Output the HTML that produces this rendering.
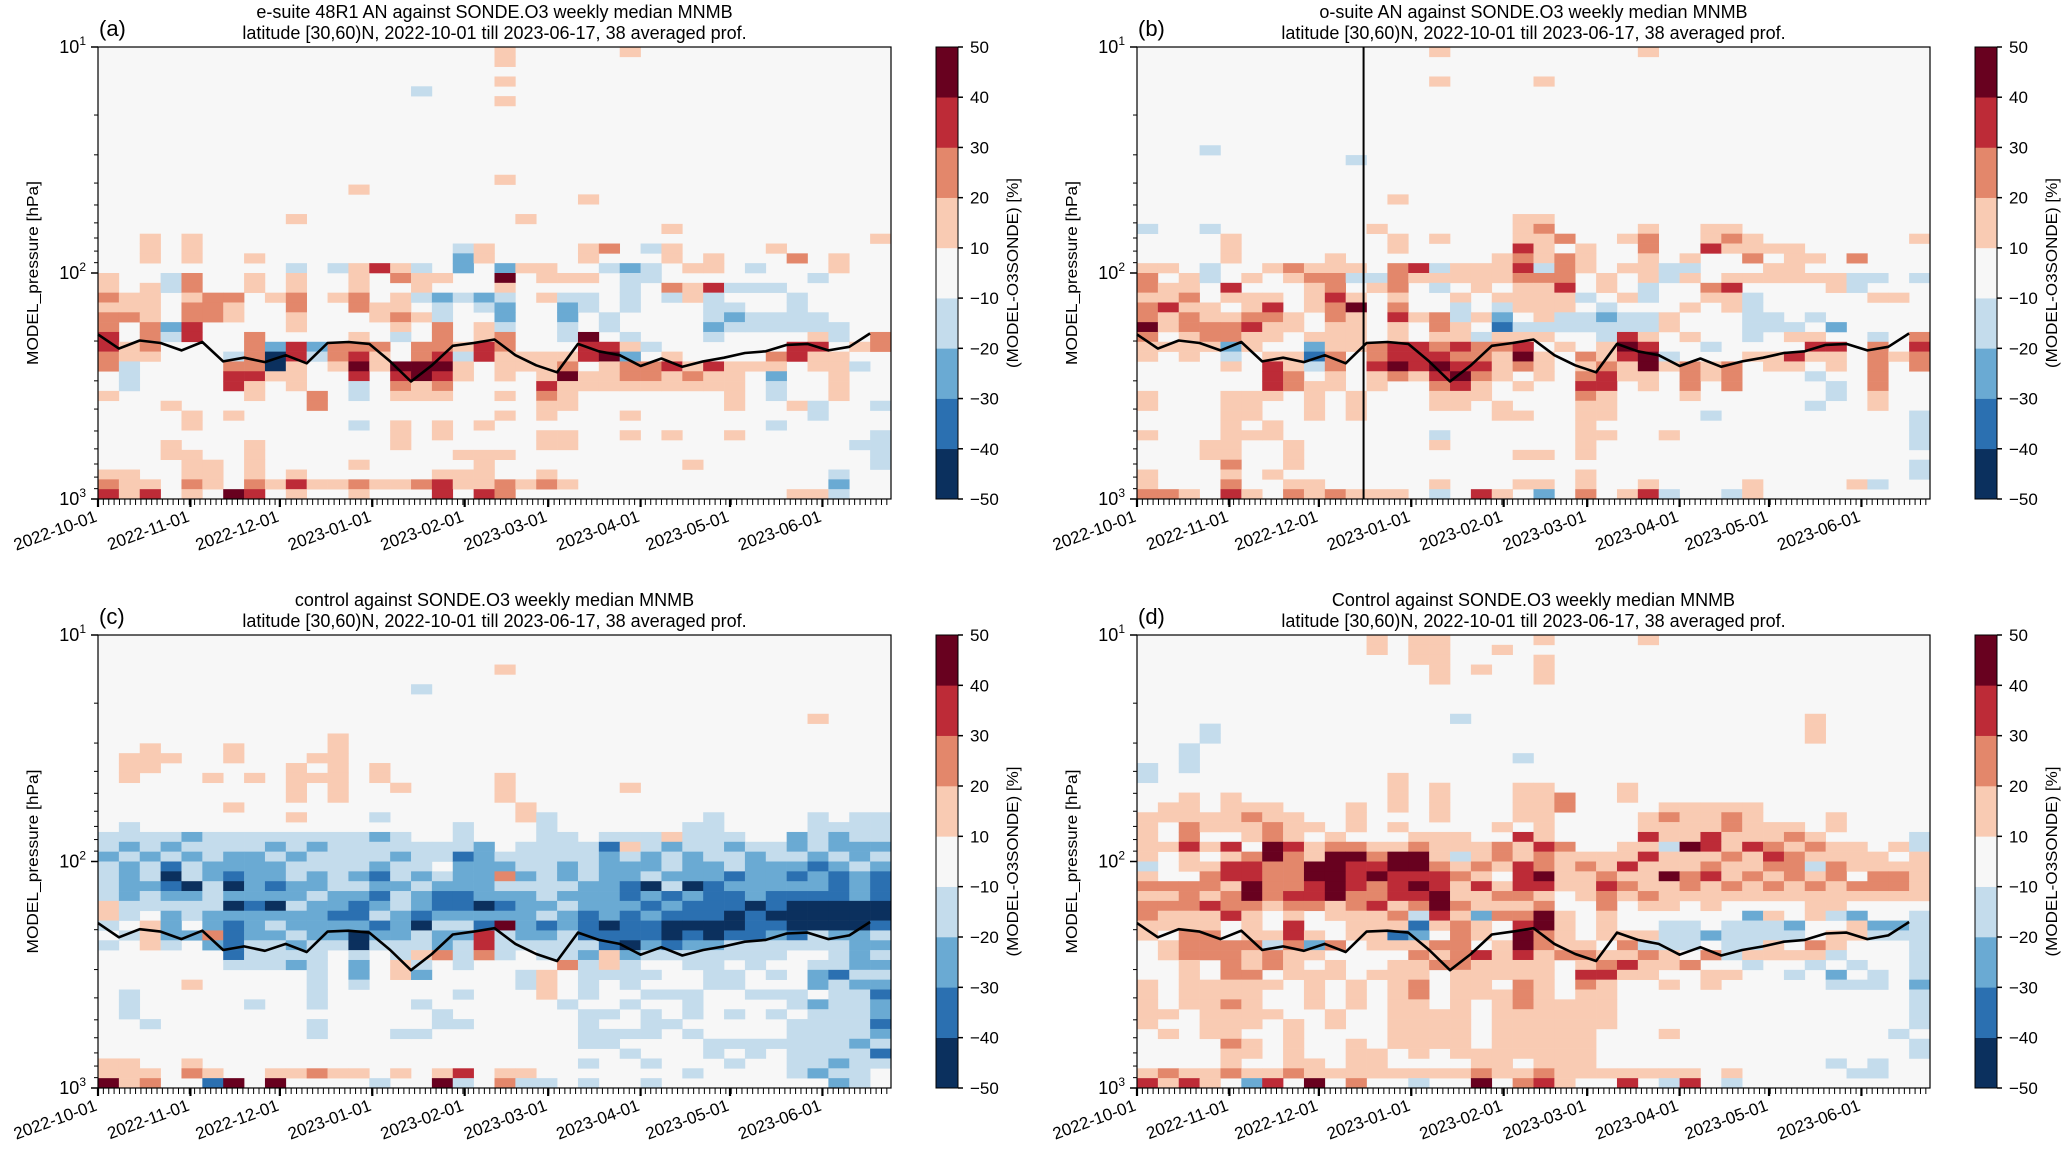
<!DOCTYPE html>
<html><head><meta charset="utf-8"><title>MNMB heatmaps</title>
<style>
html,body{margin:0;padding:0;background:#fff;}
svg{display:block;font-family:"Liberation Sans",sans-serif;}
</style></head>
<body>
<svg id="fig" xmlns="http://www.w3.org/2000/svg" width="2066" height="1152" viewBox="0 0 2066 1152"></svg>
<script>
// ---------- data ----------
const weekCount = 38;
const startDate = "2022-10-01";
const monthTicks = ["2022-10-01","2022-11-01","2022-12-01","2023-01-01","2023-02-01","2023-03-01","2023-04-01","2023-05-01","2023-06-01"];
const yTickExps = [1, 2, 3];
const cbTicks = [50, 40, 30, 20, 10, -10, -20, -30, -40, -50];
const cbBounds = [-50, -40, -30, -20, -10, 10, 20, 30, 40, 50];
const cbColors = ["#0b305e","#2b70b1","#6aaad3","#c4dcec","#f7f7f7","#f9cbb3","#e3876b","#bd2b37","#68011f"];
const tropopause = [187,216,199,204,220,202,246,237,248,231,251,204,202,206,246,302,256,210,204,197,231,256,275,206,222,231,258,239,260,246,237,226,222,208,206,220,212,185];
const codeValues = {"a":-15,"b":-25,"c":-35,"d":-45,"1":15,"2":25,"3":35,"4":45};
const titlesLine1 = ["e-suite 48R1 AN against SONDE.O3 weekly median MNMB","o-suite AN against SONDE.O3 weekly median MNMB","control against SONDE.O3 weekly median MNMB","Control against SONDE.O3 weekly median MNMB"];
const titleLine2 = "latitude [30,60)N, 2022-10-01 till 2023-06-17, 38 averaged prof.";
const panelLetters = ["(a)","(b)","(c)","(d)"];
const markerDateB = "2022-12-16";
const nRows = 46;
// rows top (10 hPa) -> bottom (1000 hPa); "col:code" entries
const gridA = ["19:1 25:1","19:1","","19:1","15:a","19:1","","","","","","","","19:1","12:1","23:1","","9:1 20:1","27:1","2:1 4:1 37:1",
"2:1 4:1 17:a 18:1 23:1 24:2 26:a 27:1 32:1",
"2:1 4:1 7:1 17:b 18:1 23:1 27:1 29:1 33:2 35:1",
"9:a 11:a 12:1 13:3 14:1 15:a 17:b 19:b 20:1 21:1 24:a 25:b 26:a 28:1 29:1 31:a 35:1",
"0:1 3:a 4:2 7:1 9:1 12:1 14:2 15:1 16:1 19:4 21:1 22:1 23:1 25:a 26:a 34:a",
"0:1 2:1 3:a 4:2 7:1 9:1 12:1 15:1 19:1 25:a 27:2 28:1 29:3 30:a 31:a 32:a",
"0:2 1:1 2:1 4:1 5:2 6:2 8:1 9:2 11:1 12:2 14:1 15:a 16:b 17:a 18:b 19:a 21:1 22:a 23:a 25:a 27:a 28:1 29:a 33:a",
"0:1 1:1 2:1 4:2 5:2 6:1 9:2 12:2 13:1 14:1 16:a 18:a 19:b 22:b 23:a 25:a 29:a 30:a 33:a",
"0:2 1:2 2:1 4:2 5:2 6:1 9:1 13:1 14:2 15:1 16:a 19:b 22:b 24:a 29:a 30:b 31:a 32:a 33:a 34:a",
"0:2 2:2 3:b 4:3 9:1 14:1 16:2 18:1 19:a 22:a 24:a 29:b 30:a 31:a 32:a 33:a 34:a 35:a",
"0:3 2:2 3:a 4:3 7:2 12:1 14:a 16:2 18:1 19:2 22:a 23:4 25:a 29:a 34:1 35:a 37:2",
"0:3 1:1 2:2 7:2 8:b 9:3 10:b 11:2 12:2 13:2 15:2 16:2 17:1 18:3 19:2 23:3 24:3 25:1 26:a 33:3 34:3 36:1 37:2",
"0:2 1:1 2:1 6:a 7:2 8:d 9:3 10:a 11:2 12:3 13:1 15:2 16:3 17:a 18:3 19:1 20:1 21:1 22:1 23:3 24:4 25:b 27:1 32:2 33:3 34:1 35:1",
"0:2 1:a 6:2 7:2 8:d 9:1 11:1 12:4 13:1 14:4 15:4 16:4 17:1 19:1 20:1 21:1 22:2 24:1 25:2 26:2 27:3 28:1 29:3 30:1 31:1 32:1 34:1 35:1 36:a",
"1:a 6:3 7:3 8:1 9:1 12:3 14:3 15:4 16:3 17:1 19:1 21:1 22:4 23:1 24:1 25:2 26:2 27:1 28:2 29:1 30:1 32:b 35:1",
"1:a 6:3 7:1 9:1 12:a 14:2 15:1 16:2 21:3 22:1 23:1 24:1 25:1 26:1 27:1 28:1 29:1 30:1 32:a 35:1",
"0:1 7:1 10:2 12:a 14:1 15:1 16:1 19:1 21:2 22:1 30:1 32:a 35:1",
"3:1 10:2 21:1 22:1 30:1 33:1 34:a 37:a",
"4:1 6:1 19:1 21:1 25:1 34:a",
"4:1 12:a 14:1 16:1 18:1 32:a",
"14:1 16:1 21:1 22:1 25:1 27:1 30:1 37:a",
"3:1 7:1 14:1 21:1 22:1 36:a 37:a",
"3:1 4:1 7:1 17:1 18:1 19:1 37:a",
"4:1 5:1 7:1 12:1 18:1 28:1 37:a",
"0:1 1:1 4:1 5:1 7:1 9:1 16:1 17:1 18:1 21:1 35:a",
"0:2 1:1 2:1 4:2 5:1 7:2 8:1 9:3 10:1 11:1 12:2 13:1 14:1 15:2 16:3 17:1 18:1 19:2 20:1 21:2 22:1 35:b",
"0:3 1:1 2:3 4:1 6:4 7:3 9:1 12:1 16:3 18:3 19:2 33:1 34:1 35:a"];
const gridB = ["14:1 24:1","","","14:1 19:1","","","","","","","3:a","10:a","","","","12:1","","18:1 19:1","0:a 3:a 11:1 18:1 19:2 24:1 27:1 28:1",
"4:1 12:1 14:1 18:1 19:1 20:2 23:1 24:2 27:1 28:2 29:1 37:1",
"4:1 12:1 18:3 19:1 21:1 24:2 27:3 28:1 29:1 30:1 31:1",
"4:1 9:1 17:1 18:2 19:1 20:2 21:1 24:1 26:1 29:2 31:1 32:1 34:2",
"0:1 1:1 3:a 6:1 7:2 8:1 9:1 10:1 12:2 13:3 14:a 15:1 16:1 17:1 18:3 19:a 20:2 21:1 23:1 24:1 25:a 26:a 30:1 31:1",
"0:2 2:1 3:a 5:1 7:1 8:2 9:2 10:a 11:a 12:2 13:1 14:1 15:1 16:1 17:1 18:2 19:2 20:2 22:1 24:1 25:a 26:1 28:1 29:1 30:1 31:1 32:1 33:1 34:a 35:a 37:a",
"0:2 1:1 2:1 4:3 8:1 9:2 11:1 12:2 14:a 16:1 18:1 19:1 20:3 22:1 24:a 27:2 28:3 33:1 34:a",
"0:1 1:1 2:2 4:1 5:1 6:1 8:1 9:3 10:1 12:1 15:1 17:1 18:1 19:1 20:1 21:a 23:1 24:a 27:1 28:1 29:a 35:1 36:1",
"0:2 1:3 2:1 3:1 5:1 6:3 8:1 9:2 10:4 12:2 15:a 17:a 18:1 19:1 20:1 22:a 26:1 28:1 29:a",
"0:2 1:1 2:2 3:1 4:1 5:2 6:2 7:1 9:2 10:1 12:3 13:1 14:2 15:a 16:1 17:b 19:1 20:a 21:a 22:b 23:a 24:a 25:1 29:a 30:a 32:a",
"0:4 1:1 2:2 3:2 4:2 5:3 6:1 7:1 9:1 10:1 12:1 14:2 15:1 17:c 18:a 19:a 20:a 21:a 22:a 23:a 24:a 25:1 29:a 30:a 31:a 33:b",
"0:2 2:1 3:2 4:2 5:1 6:1 8:1 9:1 10:1 12:1 14:1 15:1 16:a 17:1 18:1 19:1 22:a 23:3 24:1 26:1 29:a 31:1 32:1 35:a 37:2",
"0:1 1:1 2:1 3:1 4:b 5:1 8:b 9:1 10:1 11:2 12:3 13:3 14:2 15:3 16:2 17:2 18:3 20:1 22:1 23:4 24:3 27:a 32:3 33:3 35:2 37:3",
"0:1 2:1 4:a 6:1 7:1 8:c 9:2 11:2 12:3 13:3 14:3 15:2 16:2 17:1 18:4 19:1 21:2 22:1 23:3 24:4 25:a 29:1 30:1 31:3 32:1 33:1 35:2 36:1 37:2",
"4:1 6:3 7:1 8:a 9:2 11:3 12:4 13:3 14:4 15:3 16:3 17:1 18:2 19:1 21:1 22:2 23:1 24:4 25:1 26:2 27:1 28:2 30:1 31:1 33:1 35:2 37:2",
"6:3 7:2 9:1 11:1 12:2 13:1 14:3 15:4 16:2 17:1 19:1 21:2 22:3 23:1 24:1 26:2 27:1 28:2 32:a 35:2",
"6:3 7:2 8:1 9:1 11:1 14:2 15:3 16:1 18:1 21:3 22:3 24:1 26:2 28:2 33:a 35:2",
"0:1 4:1 5:1 6:1 8:1 10:1 14:1 15:1 16:1 21:2 22:1 26:1 33:a 35:1",
"0:1 4:1 5:1 8:1 10:1 14:1 15:1 17:1 21:1 22:1 32:a 35:1",
"4:1 5:1 8:1 10:1 17:1 18:1 21:1 22:1 27:a 37:a",
"4:1 6:1 21:1 37:a",
"0:1 4:1 5:1 6:1 14:a 21:1 22:1 25:1 37:a",
"3:1 4:1 7:1 14:1 21:1 37:a",
"3:1 4:1 7:1 18:1 19:1 21:1",
"4:2 7:1 37:a",
"0:1 4:1 6:1 21:1 37:a",
"0:1 4:2 7:1 8:1 14:1 18:1 19:1 21:1 24:1 29:1 34:1 35:a",
"0:2 1:2 2:1 4:3 5:1 7:2 8:1 9:2 10:1 11:1 12:1 14:a 16:3 17:1 19:b 21:2 23:1 24:3 25:a 28:a 29:1"];
const gridC = ["","","","19:1","","15:a","","","34:1","","11:1","2:1 6:1 11:1","1:1 2:1 3:1 6:1 10:1 11:1","1:1 2:1 9:1 11:1 13:1","1:1 5:1 7:1 9:1 10:1 11:1 13:1 19:1",
"9:1 11:1 14:1 19:1 25:1","9:1 11:1 19:1","6:1 20:1","9:1 13:a 20:1 21:a 29:a 34:a 36:a 37:a","1:a 17:a 21:a 28:a 29:a 34:a 35:a 36:a 37:a",
"0:a 1:a 2:a 3:a 4:b 5:a 6:a 7:a 8:a 9:a 10:a 11:a 12:a 13:b 14:a 17:a 21:a 22:a 24:a 25:a 26:a 27:1 28:a 29:a 30:a 33:b 34:a 35:b 36:a 37:a",
"0:a 1:b 2:a 3:b 4:a 5:a 6:a 7:a 8:b 9:a 10:b 11:a 12:a 13:a 14:a 15:a 16:a 17:a 18:b 20:a 21:a 22:a 23:a 24:c 25:1 26:a 27:b 28:a 29:a 30:b 31:a 32:a 33:b 34:a 35:b 36:b 37:b",
"0:b 1:a 2:b 3:a 4:b 5:a 6:b 7:b 8:a 9:b 10:a 11:a 12:a 13:a 14:b 15:a 16:a 17:c 18:b 19:a 20:a 21:a 22:a 23:a 24:b 25:a 26:b 27:a 28:b 29:a 30:a 31:b 32:a 33:a 34:b 35:a 36:b 37:a",
"0:a 1:b 2:a 3:c 4:a 5:b 6:b 7:b 8:b 9:a 10:a 11:a 12:a 13:b 14:a 15:a 17:b 18:b 19:b 20:a 21:a 22:b 23:a 24:b 25:b 26:b 27:a 28:b 29:b 30:a 31:b 32:b 33:b 34:c 35:b 36:a 37:b",
"0:a 1:b 2:a 3:d 4:a 5:b 6:c 7:b 8:b 9:a 10:b 11:a 12:b 13:c 14:a 15:b 16:a 17:b 18:b 19:2 20:b 21:a 22:b 23:a 24:b 25:b 26:a 27:b 28:b 29:b 30:c 31:b 32:b 33:c 34:b 35:c 36:b 37:c",
"0:a 1:b 2:b 3:c 4:d 5:a 6:d 7:b 8:c 9:b 10:b 11:a 12:a 13:b 14:b 15:a 16:b 17:b 18:b 19:a 20:a 21:a 22:a 23:b 24:b 25:c 26:d 27:a 28:d 29:c 30:b 31:b 32:b 33:b 34:b 35:c 36:b 37:c",
"0:a 1:b 2:a 3:b 4:b 5:a 6:b 7:b 8:b 9:b 10:a 11:b 12:b 13:c 14:a 15:b 16:c 17:c 18:b 19:b 20:b 21:a 22:b 23:b 24:b 25:c 26:b 27:c 28:b 29:c 30:c 31:b 32:c 33:c 34:c 35:c 36:b 37:c",
"0:1 1:a 2:a 3:a 4:a 5:a 6:d 7:c 8:d 9:a 10:b 11:b 12:c 13:b 14:a 15:b 16:c 17:c 18:d 19:c 20:b 21:b 22:a 23:b 24:b 25:b 26:c 27:b 28:c 29:c 30:c 31:d 32:c 33:d 34:d 35:d 36:d 37:d",
"0:1 1:a 3:b 4:a 5:b 6:b 7:b 8:b 9:b 10:b 11:c 12:c 13:a 14:b 15:c 16:b 17:b 18:b 19:b 20:b 21:a 22:b 23:c 24:b 25:c 26:b 27:c 28:c 29:c 30:d 31:c 32:d 33:d 34:d 35:d 36:d 37:d",
"0:a 2:1 3:b 5:b 6:c 7:b 8:a 9:b 10:b 11:b 12:b 13:c 14:b 15:d 16:a 17:a 18:c 19:4 20:b 21:c 22:b 23:c 24:d 25:c 26:c 27:d 28:d 29:d 30:d 31:c 32:c 33:d 34:d 35:d 36:d 37:c",
"1:a 2:1 3:b 4:b 5:2 6:c 7:b 8:b 9:a 10:b 11:b 12:d 13:b 14:b 15:a 16:b 17:b 18:3 19:a 20:b 21:b 22:a 23:c 24:c 25:c 26:c 27:d 28:c 29:d 30:c 31:c 32:b 33:c 34:a 35:b 36:b 37:a",
"0:a 2:1 3:a 5:b 6:c 7:a 8:a 9:b 10:a 11:a 12:d 13:a 14:a 15:a 16:b 17:a 18:3 19:a 20:a 21:a 22:a 23:a 24:c 25:d 26:b 27:c 28:b 29:b 30:a 31:a 32:a 33:a 34:a 35:a 36:b 37:b",
"6:c 7:a 8:a 9:a 10:a 12:a 14:a 15:1 16:2 17:a 18:2 19:a 21:a 22:a 23:b 24:1 25:b 26:a 27:a 28:a 29:a 30:a 31:a 32:a 35:a 36:b 37:a",
"6:a 7:a 8:a 9:b 10:a 12:b 14:1 15:a 17:a 22:2 23:a 24:1 25:a 28:a 29:a 31:a 34:a 35:a 36:b 37:b",
"10:a 12:b 14:1 15:b 20:a 21:1 23:a 24:a 25:a 26:a 29:a 30:a 32:a 34:b 35:c 36:a 37:a",
"4:1 10:a 12:a 20:a 21:1 23:a 25:a 29:a 30:a 34:b 35:a 36:b 37:b",
"1:a 10:a 17:a 21:1 23:a 26:a 27:a 28:a 31:a 32:a 33:a 35:a 36:a 37:c",
"1:a 7:a 10:a 15:a 22:a 25:a 28:a 33:a 34:b 35:a 36:a 37:b",
"1:a 16:a 23:a 24:a 26:a 28:a 30:a 32:a 34:a 35:a 36:a 37:b",
"2:a 10:a 16:a 17:a 23:a 26:a 27:a 33:a 34:a 35:a 36:a 37:c",
"10:a 14:a 15:a 23:a 24:a 25:a 26:a 28:a 33:a 34:a 35:a 36:a 37:b",
"23:a 24:a 29:a 30:a 31:a 32:a 33:a 34:a 35:a 36:b 37:a",
"25:a 29:a 31:a 33:a 34:a 35:a 36:a 37:c",
"0:1 1:1 4:1 23:a 26:a 30:a 33:a 34:a 35:b 36:a 37:a",
"0:1 1:1 2:1 4:2 5:1 8:1 9:1 10:2 11:1 12:1 14:1 16:1 17:3 19:1 20:1 28:a 33:a 34:b 35:a 36:a",
"0:4 1:1 2:2 5:c 6:4 8:4 13:a 16:4 17:a 19:2 20:a 21:a 23:a 26:a 35:b 36:a"];
const gridD = ["11:1 13:1 14:1 19:1 24:1","11:1 13:1 14:1 17:1","13:1 14:1 19:1","14:1 16:1 19:1","14:1 19:1","","","","15:a 32:1","3:a 32:1","3:a 32:1","2:a","2:a 18:a","0:a 2:a","0:a 12:1",
"12:1 14:1 18:1 19:1 23:1",
"2:1 4:1 12:1 14:1 18:1 19:1 20:2 23:1",
"1:1 2:1 4:1 5:1 6:1 10:1 12:1 14:1 18:1 19:1 20:2 25:1 26:1 27:1 28:1 29:1",
"0:1 1:1 2:1 3:1 4:1 5:2 6:1 7:1 10:1 14:1 18:1 19:1 24:1 25:2 26:1 27:1 28:2 29:1 33:1",
"0:1 2:2 3:1 4:1 5:1 6:2 7:1 8:1 10:1 12:1 17:1 19:1 24:1 25:1 26:1 27:1 28:2 29:1 30:1 31:1 33:1",
"0:1 2:2 5:1 6:2 7:1 9:1 13:1 14:1 15:1 18:3 19:1 24:3 25:1 26:1 27:3 28:1 29:1 30:1 31:2 32:1 37:a",
"0:1 1:1 2:3 3:1 4:3 6:4 7:3 8:1 9:2 10:2 11:1 12:1 13:2 14:1 15:1 16:1 17:2 18:1 19:3 20:2 23:1 24:1 25:a 26:4 27:3 28:1 29:3 30:2 31:1 32:2 33:1 34:1 36:1 37:a",
"0:1 2:1 4:1 5:2 6:4 7:2 8:1 9:4 10:4 11:2 12:4 13:4 14:1 15:a 16:1 17:2 18:1 19:2 20:1 21:1 22:1 23:1 24:3 25:1 26:1 27:1 28:2 29:1 30:3 31:2 32:1 33:1 34:1 35:1 37:1",
"0:a 2:1 3:1 4:3 5:3 6:2 7:2 8:4 9:4 10:3 11:3 12:4 13:4 14:2 15:1 16:2 17:1 18:3 19:2 20:1 21:2 22:1 23:3 24:1 25:1 26:1 27:2 28:1 29:1 30:2 31:2 32:a 33:2 34:1 35:1 36:1 37:1",
"0:1 3:2 4:3 5:3 6:2 7:2 8:4 9:4 10:3 11:4 12:3 13:3 14:3 15:2 16:1 18:3 19:4 20:1 21:1 22:2 23:1 24:1 25:4 26:2 27:3 28:1 29:2 30:1 31:2 32:1 33:2 35:2 36:2 37:1",
"0:2 1:2 2:2 3:2 4:1 5:4 6:2 7:2 8:3 9:4 10:3 11:2 12:3 13:4 14:3 15:1 16:3 17:1 18:3 19:3 20:1 21:1 22:3 23:2 24:1 25:1 26:2 27:1 28:2 29:1 30:2 31:1 32:2 33:1 34:2 35:2 36:2 37:1",
"0:1 1:1 2:2 3:1 4:2 5:4 6:2 7:3 8:3 9:4 10:2 11:2 12:3 13:3 14:4 15:1 16:1 17:2 18:2 19:1 21:1 22:2 23:1 24:2 25:1 26:1 27:1 28:1 29:1 30:1 31:1 32:1 33:1 34:1 35:1 36:1 37:1",
"0:2 1:2 2:2 3:3 4:2 5:2 6:1 7:2 8:2 9:1 10:2 11:3 12:1 13:2 14:4 15:2 16:1 17:1 18:1 19:2 22:2 24:1 25:1 27:1 32:1 33:1",
"0:2 1:1 2:1 3:1 4:3 5:1 7:1 9:1 10:1 11:1 12:2 13:a 14:3 15:1 16:b 17:2 18:2 19:4 20:1 22:1 29:b 30:1 32:1 33:a 34:b 37:a",
"0:1 1:1 2:1 3:1 5:1 7:3 10:1 11:1 12:1 13:c 14:1 15:2 16:1 18:3 19:4 20:1 22:1 25:a 26:a 28:a 29:a 30:a 31:b 34:1 35:b 36:b 37:a",
"0:1 2:2 3:2 5:1 6:1 7:3 8:1 10:1 11:1 12:c 13:b 15:2 16:1 18:4 19:2 20:1 22:1 23:1 24:1 25:a 26:a 27:b 28:a 29:a 30:a 31:a 33:1 34:1 35:a 36:a 37:a",
"1:1 2:2 3:2 4:2 5:2 6:a 7:2 8:b 9:2 11:1 12:1 13:1 14:2 15:2 17:1 18:4 19:2 20:1 21:1 23:2 24:a 25:a 26:a 28:a 29:a 30:1 32:2 33:1 37:a",
"1:1 2:2 3:2 4:2 5:1 6:2 7:1 8:1 13:2 14:1 15:2 16:3 17:1 18:3 19:1 20:2 21:2 22:1 23:1 24:2 25:1 27:2 28:a 29:1 30:1 31:1 32:1 33:a 37:a",
"2:1 4:2 5:1 6:2 7:1 9:1 12:1 13:1 14:2 15:2 16:1 17:1 18:1 19:1 21:1 22:2 23:3 24:1 25:1 26:2 29:a 32:a 34:a 37:a",
"2:1 4:2 5:2 7:1 8:1 9:1 11:1 12:1 13:1 15:1 16:1 17:1 18:1 19:1 21:3 22:3 23:1 24:1 27:1 28:1 31:a 33:b 35:a 37:a",
"0:1 2:1 3:1 4:1 5:1 6:1 8:1 10:1 12:1 13:2 15:1 16:1 18:2 19:1 21:2 22:1 25:1 27:1 33:a 34:a 35:a 37:b",
"0:1 2:1 3:1 4:1 5:1 8:1 10:1 12:1 13:2 15:1 16:1 17:1 18:2 19:1 21:1 22:1 37:a",
"0:1 2:1 3:1 4:2 5:1 8:1 10:1 12:1 13:1 15:1 17:1 18:2 19:1 20:1 21:1 22:1 37:a",
"0:1 1:1 3:1 4:1 5:1 6:1 9:1 12:1 13:1 14:1 15:1 17:1 18:1 19:1 20:1 21:1 22:1 37:a",
"0:1 3:1 4:1 5:1 7:1 9:1 12:1 13:1 14:1 15:1 17:1 18:1 19:1 20:1 21:1 22:1 37:a",
"1:1 3:1 4:1 7:1 12:1 13:1 14:1 15:1 17:1 18:1 19:1 20:1 21:1 25:1 36:a",
"4:2 5:1 7:1 10:1 12:1 13:1 14:1 15:1 17:1 18:1 19:1 20:1 21:1 37:a",
"4:1 5:1 7:1 10:1 11:1 13:1 15:1 16:1 17:1 18:1 19:1 20:1 21:1 37:a",
"4:1 7:1 8:1 10:1 11:1 16:1 17:1 19:1 20:1 21:1 33:a 35:a",
"0:1 1:2 2:1 3:1 4:2 5:1 6:1 7:2 8:1 9:1 10:1 11:1 12:1 13:1 14:1 15:1 16:2 17:1 18:1 19:2 20:1 21:1 22:1 23:1 24:1 25:1 26:1 28:1 34:a 35:a",
"0:3 1:1 2:3 3:1 5:b 6:3 8:4 10:2 13:a 16:4 18:2 19:3 20:1 23:3 25:a 26:3 28:a"];

// ---------- layout ----------
const NS = "http://www.w3.org/2000/svg";
const svg = document.getElementById("fig");
const panels = [
  {x:98, y:47, w:793, h:452, grid:gridA, cb:936},
  {x:1137, y:47, w:793, h:452, grid:gridB, cb:1975},
  {x:98, y:635, w:793, h:453, grid:gridC, cb:936},
  {x:1137, y:635, w:793, h:453, grid:gridD, cb:1975}
];
const totalDays = weekCount * 7;
const t0 = Date.parse(startDate + "T00:00:00Z");
function dayOf(s){ return (Date.parse(s + "T00:00:00Z") - t0) / 86400000; }
function mk(tag, attrs, parent){
  const el = document.createElementNS(NS, tag);
  for (const k in attrs) el.setAttribute(k, attrs[k]);
  (parent || svg).appendChild(el);
  return el;
}
function colorFor(v){
  for (let i = 0; i < cbColors.length; i++) if (v >= cbBounds[i] && v <= cbBounds[i+1]) return cbColors[i];
  return v < -50 ? cbColors[0] : cbColors[8];
}
function parseRow(s){
  const out = [];
  s.trim().split(/\s+/).forEach(tok => {
    if (!tok) return;
    const [c, code] = tok.split(":");
    out.push({col: +c, value: codeValues[code]});
  });
  return out;
}

panels.forEach((P, pi) => {
  const xScale = d => P.x + d / totalDays * P.w;
  const yScale = p => P.y + (Math.log10(p) - 1) / 2 * P.h;
  const g = mk("g", {});
  
  

  const bg = mk("rect", {x:P.x, y:P.y, width:P.w, height:P.h, fill:"#f7f7f7"}, g);
  
  

  // heatmap cells
  P.grid.forEach((row, r) => {
    const pTop = Math.pow(10, 1 + 2 * r / nRows), pBot = Math.pow(10, 1 + 2 * (r + 1) / nRows);
    parseRow(row).forEach(cell => {
      const x0 = xScale(cell.col * 7), x1 = xScale((cell.col + 1) * 7);
      const y0 = yScale(pTop), y1 = yScale(pBot);
      const rc = mk("rect", {x:x0.toFixed(2), y:y0.toFixed(2), width:(x1-x0+0.3).toFixed(2), height:(y1-y0+0.3).toFixed(2), fill:colorFor(cell.value)}, g);
      
      
    });
  });

  // marker line in panel b
  if (pi === 1) {
    const mx = xScale(dayOf(markerDateB));
    const ml = mk("line", {x1:mx, x2:mx, y1:P.y, y2:P.y+P.h, stroke:"#000", "stroke-width":2}, g);
    
    
  }

  // tropopause line
  const pts = tropopause.map((p, i) => xScale(i * 7).toFixed(1) + "," + yScale(p).toFixed(1)).join(" ");
  const tl = mk("polyline", {points:pts, fill:"none", stroke:"#000", "stroke-width":2.6, "stroke-linejoin":"round"}, g);
  
  

  // frame
  const fr = mk("rect", {x:P.x, y:P.y, width:P.w, height:P.h, fill:"none", stroke:"#000", "stroke-width":1.2}, g);
  
  

  // y ticks
  yTickExps.forEach(e => {
    const y = yScale(Math.pow(10, e));
    mk("line", {x1:P.x-7, x2:P.x, y1:y, y2:y, stroke:"#000", "stroke-width":1.5}, g);
    const t = mk("text", {x:P.x-12, y:y+6, "text-anchor":"end", "font-size":18, fill:"#000"}, g);
    
    
    t.textContent = "10";
    const sup = mk("tspan", {dy:-8, "font-size":12}, t);
    sup.textContent = String(e);
    if (e < 3) for (let m = 2; m <= 9; m++) {
      const ym = yScale(m * Math.pow(10, e));
      mk("line", {x1:P.x-4, x2:P.x, y1:ym, y2:ym, stroke:"#000", "stroke-width":1}, g);
    }
  });

  // x minor ticks
  for (let d = 0; d <= totalDays; d += 1.8) {
    const x = xScale(d);
    mk("line", {x1:x, x2:x, y1:P.y+P.h, y2:P.y+P.h+6, stroke:"#000", "stroke-width":1}, g);
  }
  // x major ticks + labels
  monthTicks.forEach(s => {
    const x = xScale(dayOf(s));
    mk("line", {x1:x, x2:x, y1:P.y+P.h, y2:P.y+P.h+8, stroke:"#000", "stroke-width":2.2}, g);
    const ty = P.y + P.h + 22;
    const t = mk("text", {x:x, y:ty, "text-anchor":"end", "font-size":17, fill:"#000", transform:`rotate(-20 ${x} ${ty})`}, g);
    
    
    t.textContent = s;
  });

  // y axis title
  const yx = P.x - 60, yc = P.y + P.h / 2;
  const yt = mk("text", {x:yx, y:yc, "text-anchor":"middle", "font-size":16, fill:"#000", transform:`rotate(-90 ${yx} ${yc})`, textLength:184, lengthAdjust:"spacingAndGlyphs"}, g);
  
  
  yt.textContent = "MODEL_pressure [hPa]";

  // titles
  const cx = P.x + P.w / 2;
  const tt1 = mk("text", {x:cx, y:P.y - 29, "text-anchor":"middle", "font-size":18, fill:"#000"}, g);
  
  
  tt1.textContent = titlesLine1[pi];
  const tt2 = mk("text", {x:cx, y:P.y - 8, "text-anchor":"middle", "font-size":18, fill:"#000"}, g);
  
  
  tt2.textContent = titleLine2;
  const pl = mk("text", {x:P.x + 1, y:P.y - 11, "font-size":22, fill:"#000"}, g);
  
  
  pl.textContent = panelLetters[pi];

  // colorbar
  const cbW = 22, segH = P.h / cbColors.length;
  const cbg = mk("g", {}, g);
  
  
  cbColors.forEach((c, i) => {
    const s = mk("rect", {x:P.cb, y:(P.y + P.h - (i + 1) * segH).toFixed(2), width:cbW, height:(segH + 0.3).toFixed(2), fill:c}, cbg);
    
    
  });
  mk("rect", {x:P.cb, y:P.y, width:cbW, height:P.h, fill:"none", stroke:"#000", "stroke-width":1}, cbg);
  cbTicks.forEach((v, i) => {
    const y = P.y + i * segH;
    mk("line", {x1:P.cb+cbW, x2:P.cb+cbW+5, y1:y, y2:y, stroke:"#000", "stroke-width":1.5}, cbg);
    const t = mk("text", {x:P.cb+cbW+12, y:y+6, "font-size":17, fill:"#000"}, cbg);
    
    
    t.textContent = v < 0 ? "\u2212" + Math.abs(v) : String(v);
  });
  const lx = P.cb + 82, ly = P.y + P.h / 2;
  const cl = mk("text", {x:lx, y:ly, "text-anchor":"middle", "font-size":16, fill:"#000", transform:`rotate(-90 ${lx} ${ly})`, textLength:190, lengthAdjust:"spacingAndGlyphs"}, cbg);
  
  
  cl.textContent = "(MODEL-O3SONDE) [%]";
});
</script>
</body></html>
